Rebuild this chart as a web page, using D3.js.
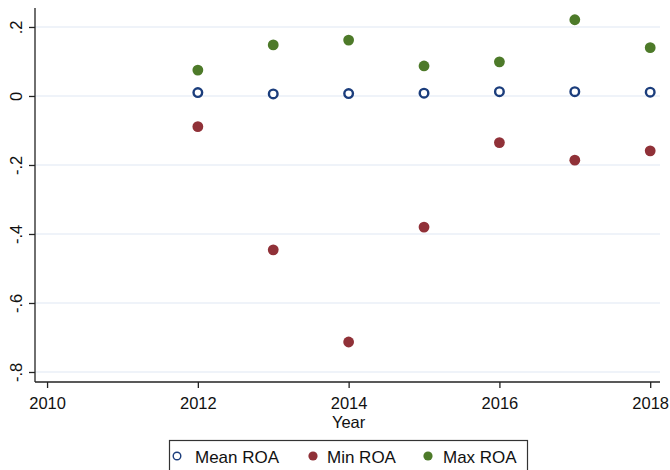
<!DOCTYPE html>
<html>
<head>
<meta charset="utf-8">
<script src="https://cdn.jsdelivr.net/npm/d3@7"></script>
<style>
  html, body { margin: 0; padding: 0; background: #fff; }
  svg { display: block; font-family: "Liberation Sans", Arial, sans-serif; }
</style>
</head>
<body>
<svg id="chart" width="670" height="470"></svg>
<script>
// ROA summary by year
const years   = [2012, 2013, 2014, 2015, 2016, 2017, 2018];
const meanROA = [0.010, 0.006, 0.007, 0.008, 0.0125, 0.0125, 0.011];
const minROA  = [-0.089, -0.446, -0.713, -0.380, -0.135, -0.186, -0.159];
const maxROA  = [0.075, 0.148, 0.162, 0.087, 0.099, 0.221, 0.140];

const xTicks = [2010, 2012, 2014, 2016, 2018];
const yTicks = [0.2, 0, -0.2, -0.4, -0.6, -0.8];
const yTickLabels = [".2", "0", "-.2", "-.4", "-.6", "-.8"];

const seriesNames = ["Mean ROA", "Min ROA", "Max ROA"];
const colors = { mean: "#1b3d7c", min: "#903138", max: "#4d7a29" };

const svg = d3.select("#chart");
const plot = { left: 35, right: 660, top: 8, bottom: 382 };

const x = d3.scaleLinear().domain([2009.84, 2018.13]).range([plot.left, plot.right]);
const y = d3.scaleLinear().domain([0.255, -0.829]).range([plot.top, plot.bottom]);

// horizontal gridlines
svg.append("g").selectAll("line").data(yTicks).join("line")
  .attr("x1", plot.left).attr("x2", plot.right)
  .attr("y1", d => y(d)).attr("y2", d => y(d))
  .attr("stroke", "#e0e7f3").attr("stroke-width", 1.2);

// y axis with vertical tick labels
const yAxis = svg.append("g").attr("transform", `translate(${plot.left},0)`)
  .call(d3.axisLeft(y).tickValues(yTicks).tickSize(6).tickFormat((d, i) => yTickLabels[i]));
yAxis.select(".domain").attr("d", `M0,${plot.top}V${plot.bottom}`).attr("stroke", "#222").attr("stroke-width", 1.3);
yAxis.selectAll(".tick line").attr("stroke", "#222").attr("stroke-width", 1.3);
yAxis.selectAll(".tick text")
  .attr("font-size", 16.5).attr("fill", "#111")
  .attr("text-anchor", "middle")
  .attr("x", 0).attr("y", 0).attr("dy", 0)
  .attr("transform", "translate(-13,0) rotate(-90)");

// x axis
const xAxis = svg.append("g").attr("transform", `translate(0,${plot.bottom})`)
  .call(d3.axisBottom(x).tickValues(xTicks).tickSize(6).tickFormat(d3.format("d")));
xAxis.select(".domain").attr("d", `M${plot.left},0H${plot.right}`).attr("stroke", "#222").attr("stroke-width", 1.3);
xAxis.selectAll(".tick line").attr("stroke", "#222").attr("stroke-width", 1.3);
xAxis.selectAll(".tick text").attr("font-size", 16.5).attr("fill", "#111").attr("y", 27).attr("dy", 0);

svg.append("text").attr("x", x(2014)).attr("y", 427.5)
  .attr("text-anchor", "middle").attr("font-size", 16.5).attr("fill", "#111").text("Year");

// markers
const pts = (vals) => years.map((yr, i) => ({ yr, v: vals[i] }));
svg.append("g").selectAll("circle").data(pts(maxROA)).join("circle")
  .attr("cx", d => x(d.yr)).attr("cy", d => y(d.v)).attr("r", 5.4).attr("fill", colors.max);
svg.append("g").selectAll("circle").data(pts(minROA)).join("circle")
  .attr("cx", d => x(d.yr)).attr("cy", d => y(d.v)).attr("r", 5.4).attr("fill", colors.min);
svg.append("g").selectAll("circle").data(pts(meanROA)).join("circle")
  .attr("cx", d => x(d.yr)).attr("cy", d => y(d.v)).attr("r", 4.3)
  .attr("fill", "#fff").attr("stroke", colors.mean).attr("stroke-width", 2.4);

// legend
const legend = svg.append("g");
legend.append("rect").attr("x", 169.5).attr("y", 440.5).attr("width", 358).attr("height", 40)
  .attr("fill", "#fff").attr("stroke", "#333").attr("stroke-width", 1.2);
const items = [
  { name: seriesNames[0], cx: 177, tx: 195, type: "mean" },
  { name: seriesNames[1], cx: 313, tx: 327, type: "min" },
  { name: seriesNames[2], cx: 428, tx: 443, type: "max" }
];
items.forEach(it => {
  const c = legend.append("circle").attr("cx", it.cx).attr("cy", 456);
  if (it.type === "mean") {
    c.attr("r", 3.8).attr("fill", "#fff").attr("stroke", colors.mean).attr("stroke-width", 1.4);
  } else {
    c.attr("r", 4.6).attr("fill", colors[it.type]);
  }
  legend.append("text").attr("x", it.tx).attr("y", 462.5).attr("font-size", 17).attr("fill", "#111").text(it.name);
});
</script>
</body>
</html>
